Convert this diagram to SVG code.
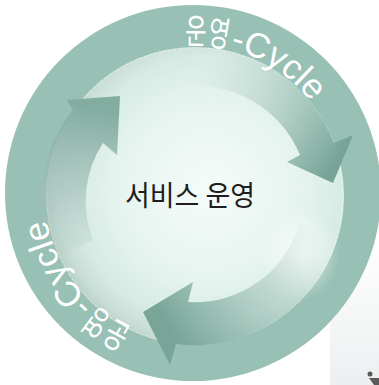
<svg xmlns="http://www.w3.org/2000/svg" xmlns:xlink="http://www.w3.org/1999/xlink" width="379" height="385" viewBox="0 0 379 385">
  <defs>
    <style>
      .ring-text { font-family: "Liberation Sans", "Noto Sans CJK KR", sans-serif; font-size: 35px; fill: #ffffff; }
      .center-text { font-family: "Noto Sans CJK KR", "Liberation Sans", sans-serif; font-size: 28px; fill: #1e1e1e; }
    </style>
    <path id="ringPath" d="M 342 193 A 149 149 0 1 1 44 193 A 149 149 0 1 1 342 193"/>
    <radialGradient id="sphereGrad" cx="0.55" cy="0.48" r="0.55">
      <stop offset="0" stop-color="#f6fbf9"/>
      <stop offset="0.55" stop-color="#e6f4ef"/>
      <stop offset="0.82" stop-color="#d6ebe4"/>
      <stop offset="0.94" stop-color="#c8ddd6"/>
      <stop offset="1" stop-color="#b8d2ca"/>
    </radialGradient>
    <radialGradient id="glow" cx="0.5" cy="0.5" r="0.5">
      <stop offset="0" stop-color="#ffffff" stop-opacity="0.8"/>
      <stop offset="1" stop-color="#ffffff" stop-opacity="0"/>
    </radialGradient>
    <linearGradient id="panelGrad" x1="0" y1="0" x2="0" y2="1">
      <stop offset="0" stop-color="#ffffff"/>
      <stop offset="1" stop-color="#eceff0"/>
    </linearGradient>
    <linearGradient id="arrowLeft" gradientUnits="userSpaceOnUse" x1="65" y1="265" x2="95" y2="110">
      <stop offset="0" stop-color="#a9c6bf" stop-opacity="0"/>
      <stop offset="0.45" stop-color="#a0bdb6" stop-opacity="0.6"/>
      <stop offset="1" stop-color="#84ada2" stop-opacity="1"/>
    </linearGradient>
    <linearGradient id="arrowRight" gradientUnits="userSpaceOnUse" x1="205" y1="70" x2="335" y2="165">
      <stop offset="0" stop-color="#a4c5bc" stop-opacity="0"/>
      <stop offset="0.55" stop-color="#8fb5aa" stop-opacity="0.55"/>
      <stop offset="1" stop-color="#76a396" stop-opacity="1"/>
    </linearGradient>
    <linearGradient id="arrowBottom" gradientUnits="userSpaceOnUse" x1="320" y1="235" x2="170" y2="330">
      <stop offset="0" stop-color="#a4c5bc" stop-opacity="0"/>
      <stop offset="0.5" stop-color="#94b9af" stop-opacity="0.55"/>
      <stop offset="1" stop-color="#78a598" stop-opacity="1"/>
    </linearGradient>
  </defs>

  <rect width="379" height="385" fill="#ffffff"/>

  <g id="side-panel">
    <rect x="330" y="240" width="49" height="145" fill="url(#panelGrad)"/>
    <circle cx="370" cy="374" r="2.5" fill="#5a5a5a"/>
    <path d="M 369 378 L 379 378 L 379 385 L 374 385 Z" fill="#5a5a5a"/>
  </g>

  <g id="ring">
    <circle cx="193" cy="193" r="188" fill="#98c0b4"/>
  </g>

  <g id="sphere">
    <circle cx="195" cy="196" r="149" fill="url(#sphereGrad)"/>
    <ellipse cx="300" cy="255" rx="40" ry="45" fill="url(#glow)"/>
    <circle cx="195" cy="196" r="148" fill="none" stroke="#ffffff" stroke-opacity="0.55" stroke-width="0.8" stroke-dasharray="3 2"/>
  </g>

  <g id="connectors">
    <path id="arrow-left" d="M 52 260 A 149 149 0 0 1 73 110 L 67 100 L 120 96 L 117 155 L 103 143 A 106 106 0 0 0 93 240 Z" fill="url(#arrowLeft)"/>
    <path id="arrow-right" d="M 200 47 A 149 149 0 0 1 334 143 L 353 135 L 333 183 L 287 162 L 300 155 A 112 112 0 0 0 199 86 Z" fill="url(#arrowRight)"/>
    <path id="arrow-bottom" d="M 339 235 A 149 149 0 0 1 176 344 L 170 365 L 143 312 L 193 282 L 188 302 A 108 108 0 0 0 299 224 Z" fill="url(#arrowBottom)"/>
  </g>

  <g id="label-top">
    <text class="ring-text"><textPath href="#ringPath" xlink:href="#ringPath" startOffset="694"><tspan textLength="43" lengthAdjust="spacingAndGlyphs">운영</tspan><tspan dx="2">-Cycle</tspan></textPath></text>
  </g>

  <g id="label-bottom">
    <text class="ring-text"><textPath href="#ringPath" xlink:href="#ringPath" startOffset="297"><tspan textLength="43" lengthAdjust="spacingAndGlyphs">운영</tspan><tspan dx="2">-Cycle</tspan></textPath></text>
  </g>

  <g id="center-node">
    <text class="center-text" x="125" y="206" textLength="130" lengthAdjust="spacingAndGlyphs">서비스 운영</text>
  </g>
</svg>
